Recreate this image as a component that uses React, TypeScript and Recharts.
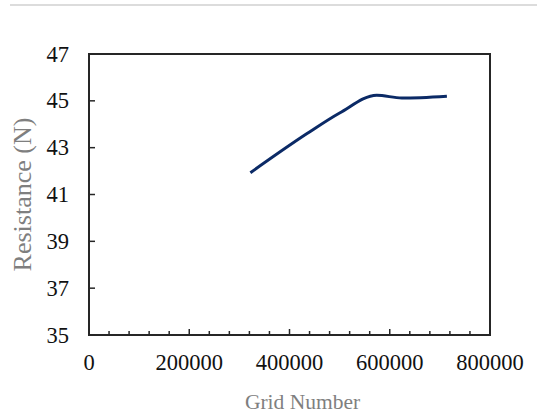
import { LineChart, Line, XAxis, YAxis, ReferenceArea, Label } from 'recharts';

// grid count vs resistance
const gridNumbers = [322000, 435000, 500000, 574000, 624000, 714000];
const resistance = [41.93, 43.6, 44.48, 45.24, 45.12, 45.2];

const xTicks = Array.from({ length: 21 }, (_, i) => i * 40000);
const xLabelTicks = [0, 200000, 400000, 600000, 800000];
const yTicks = [35, 37, 39, 41, 43, 45, 47];

const data = gridNumbers.map((g, i) => ({ grid: g, res: resistance[i] }));

const FONT = '"Liberation Serif", "Times New Roman", serif';
const AXIS = '#262626';

function XTick(props: any) {
  const { x, y, payload } = props;
  const major = xLabelTicks.includes(payload.value);
  return (
    <g>
      <line x1={x} x2={x} y1={y} y2={y - (major ? 6 : 4)} stroke={AXIS} strokeWidth={1.5} />
      {major && (
        <text x={x} y={y + 35} textAnchor="middle" fontSize={22.5} fontFamily={FONT} fill="#111">
          {payload.value}
        </text>
      )}
    </g>
  );
}

function YTick(props: any) {
  const { x, y, payload } = props;
  return (
    <g>
      <line x1={x} x2={x + 6} y1={y} y2={y} stroke={AXIS} strokeWidth={1.5} />
      <text x={x - 20} y={y + 7.5} textAnchor="end" fontSize={22.5} fontFamily={FONT} fill="#111">
        {payload.value}
      </text>
    </g>
  );
}

export default function App() {
  return (
    <div style={{ position: 'absolute', left: 0, top: 0, width: 537, height: 416, background: '#fff' }}>
      <div style={{ position: 'absolute', left: 10, top: 4, width: 527, height: 2, background: '#dcdcdc' }} />
      <LineChart
        width={537}
        height={416}
        data={data}
        margin={{ top: 54, right: 47, bottom: 11, left: 29 }}
      >
        <XAxis
          type="number"
          dataKey="grid"
          domain={[0, 800000]}
          ticks={xTicks}
          interval={0}
          tickSize={0}
          tickMargin={0}
          tickLine={false}
          tick={<XTick />}
          axisLine={{ stroke: AXIS, strokeWidth: 2 }}
          height={70}
        >
          <Label
            value="Grid Number"
            position="insideBottom"
            offset={-4}
            style={{ fontSize: 21.5, fontFamily: FONT, fill: '#7f7f7f' }}
            dx={13}
          />
        </XAxis>
        <YAxis
          type="number"
          domain={[35, 47]}
          ticks={yTicks}
          interval={0}
          tickSize={0}
          tickMargin={0}
          tickLine={false}
          tick={<YTick />}
          axisLine={{ stroke: AXIS, strokeWidth: 2 }}
          width={60}
        >
          <Label
            value="Resistance (N)"
            angle={-90}
            position="insideLeft"
            offset={-7}
            style={{ fontSize: 26, fontFamily: FONT, fill: '#7f7f7f', textAnchor: 'middle' }}
          />
        </YAxis>
        <ReferenceArea x1={0} x2={800000} y1={35} y2={47} fill="none" stroke={AXIS} strokeWidth={2} ifOverflow="visible" />
        <Line
          type="monotone"
          dataKey="res"
          stroke="#0b2a66"
          strokeWidth={3}
          dot={false}
          isAnimationActive={false}
        />
      </LineChart>
    </div>
  );
}
